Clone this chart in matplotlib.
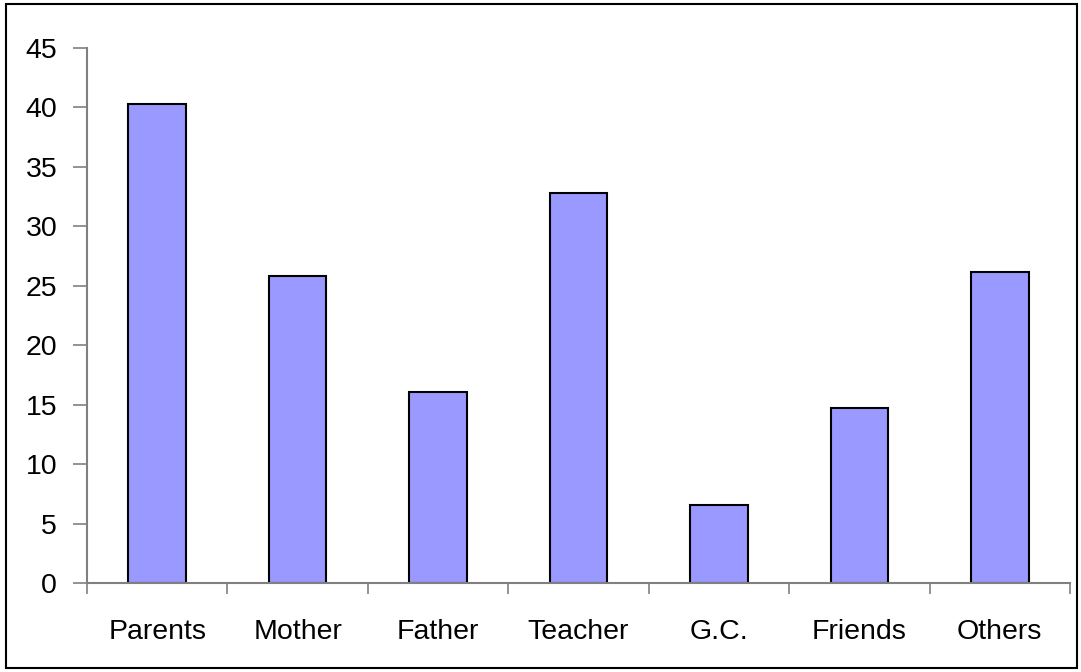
import matplotlib.pyplot as plt
from matplotlib.patches import Rectangle

# Data
categories = ["Parents", "Mother", "Father", "Teacher", "G.C.", "Friends", "Others"]
values = [40.3, 25.8, 16.1, 32.8, 6.6, 14.7, 26.2]
y_ticks = [0, 5, 10, 15, 20, 25, 30, 35, 40, 45]

plt.rcParams["font.family"] = ["Liberation Sans", "DejaVu Sans"]

fig = plt.figure(figsize=(10.81, 6.72), dpi=100)
ax = fig.add_axes([0.0805, 0.1324, 0.9093, 0.7962])

x = list(range(len(categories)))
ax.bar(x, values, width=0.41, color="#9999ff", edgecolor="black", linewidth=1.5, zorder=3)

ax.set_xlim(-0.5, len(categories) - 0.5)
ax.set_ylim(0, 45)
ax.set_yticks(y_ticks)
ax.set_yticklabels([str(t) for t in y_ticks], fontsize=20.5)

# category boundaries as tick marks, labels centered under bars
ax.set_xticks([i - 0.5 for i in range(len(categories) + 1)])
ax.set_xticklabels([])
ax.set_xticks(x, minor=True)
ax.set_xticklabels(categories, minor=True, fontsize=20.5)
ax.tick_params(axis="x", which="minor", length=0, pad=26)
ax.tick_params(axis="x", which="major", length=8, width=1.2, color="#808080")
ax.tick_params(axis="y", length=10, width=1.2, color="#808080", pad=11.5)

for side in ["top", "right"]:
    ax.spines[side].set_visible(False)
for side in ["left", "bottom"]:
    ax.spines[side].set_color("#808080")
    ax.spines[side].set_linewidth(1.5)
ax.spines["bottom"].set_zorder(4)

# outer border around the whole chart
fig.patches.append(Rectangle((0.006, 0.006), 0.99, 0.988, transform=fig.transFigure,
                             fill=False, edgecolor="black", linewidth=1.5))

plt.savefig("out.png", dpi=100)
